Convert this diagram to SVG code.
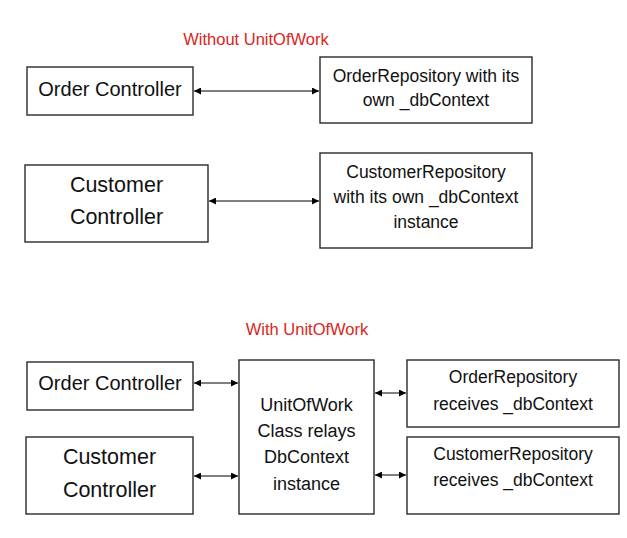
<svg xmlns="http://www.w3.org/2000/svg" width="627" height="538" viewBox="0 0 627 538">
<style>
.box{fill:#fff;stroke:#2a2a2a;stroke-width:1.4}
.t{font-family:"Liberation Sans",Arial,sans-serif;fill:#111;text-anchor:middle}
.big{font-size:20px}
.big2{font-size:21.5px}
.mid{font-size:17.5px}
.uow{font-size:18px}
.red{font-family:"Liberation Sans",Arial,sans-serif;fill:#d9261c;font-size:16.5px;text-anchor:middle}
.con{stroke:#000;stroke-width:1;fill:none;marker-start:url(#ah);marker-end:url(#ah)}
</style>
<defs>
<marker id="ah" viewBox="0 0 10 10" refX="10" refY="5" markerWidth="9" markerHeight="7" markerUnits="userSpaceOnUse" orient="auto-start-reverse">
<path d="M0,0 L10,5 L0,10 z" fill="#000"/>
</marker>
</defs>
<rect width="627" height="538" fill="#fff"/>
<text class="red" x="256" y="45">Without UnitOfWork</text>
<text class="red" x="307" y="335">With UnitOfWork</text>

<g id="connectors">
<line class="con" x1="194" y1="91" x2="319" y2="91"/>
<line class="con" x1="209" y1="201" x2="319" y2="201"/>
<line class="con" x1="194" y1="383" x2="238" y2="383"/>
<line class="con" x1="194" y1="476" x2="238" y2="476"/>
<line class="con" x1="375" y1="393" x2="406" y2="393"/>
<line class="con" x1="375" y1="475" x2="406" y2="475"/>
</g>

<g id="order-controller-1">
<rect class="box" x="27" y="67" width="166" height="48"/>
<text class="t big" x="110" y="96">Order Controller</text>
</g>
<g id="order-repository-1">
<rect class="box" x="320" y="57" width="212" height="66"/>
<text class="t mid" x="426" y="82">OrderRepository with its</text>
<text class="t mid" x="426" y="106">own _dbContext</text>
</g>
<g id="customer-controller-1">
<rect class="box" x="25" y="165" width="183" height="77"/>
<text class="t big2" x="116.5" y="192">Customer</text>
<text class="t big2" x="116.5" y="224">Controller</text>
</g>
<g id="customer-repository-1">
<rect class="box" x="320" y="153" width="212" height="95"/>
<text class="t mid" x="426" y="178">CustomerRepository</text>
<text class="t mid" x="426" y="203">with its own _dbContext</text>
<text class="t mid" x="426" y="228">instance</text>
</g>

<g id="order-controller-2">
<rect class="box" x="27" y="362" width="166" height="48"/>
<text class="t big" x="110" y="390">Order Controller</text>
</g>
<g id="customer-controller-2">
<rect class="box" x="26" y="437" width="167" height="77"/>
<text class="t big2" x="109.5" y="464">Customer</text>
<text class="t big2" x="109.5" y="497">Controller</text>
</g>
<g id="unit-of-work">
<rect class="box" x="239" y="360" width="135" height="154"/>
<text class="t uow" x="306.5" y="411">UnitOfWork</text>
<text class="t uow" x="306.5" y="437">Class relays</text>
<text class="t uow" x="306.5" y="463">DbContext</text>
<text class="t uow" x="306.5" y="490">instance</text>
</g>
<g id="order-repository-2">
<rect class="box" x="407" y="360" width="212" height="67"/>
<text class="t mid" x="513" y="383">OrderRepository</text>
<text class="t mid" x="513" y="410">receives _dbContext</text>
</g>
<g id="customer-repository-2">
<rect class="box" x="407" y="437" width="212" height="77"/>
<text class="t mid" x="513" y="460">CustomerRepository</text>
<text class="t mid" x="513" y="486">receives _dbContext</text>
</g>
</svg>
